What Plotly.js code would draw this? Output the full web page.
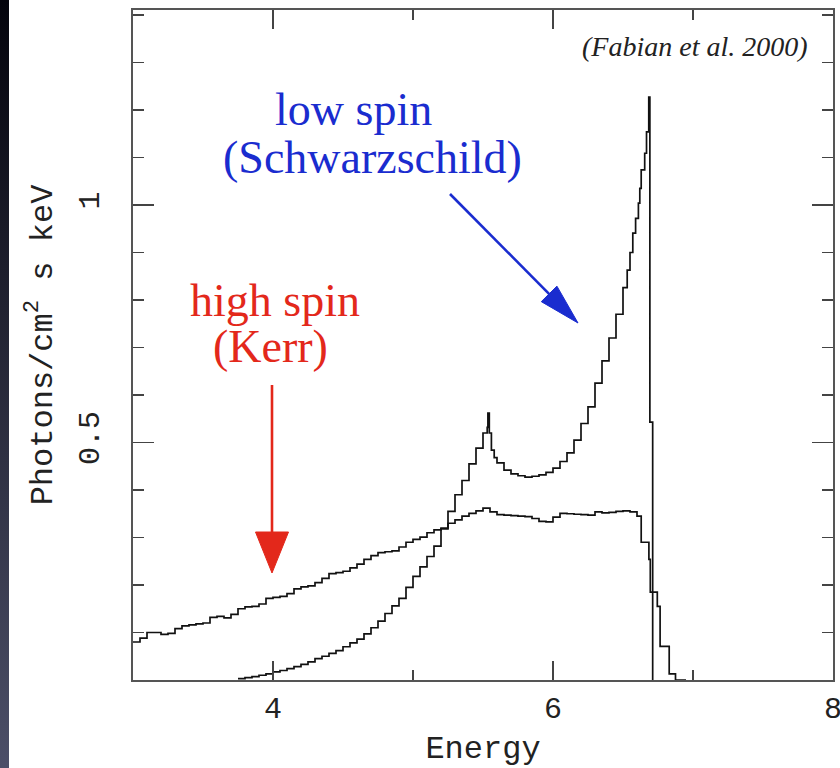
<!DOCTYPE html>
<html>
<head>
<meta charset="utf-8">
<script src="https://cdn.plot.ly/plotly-3.0.1.min.js"></script>
<style>
html,body{margin:0;padding:0;background:#ffffff;}
#strip{position:absolute;left:0;top:0;width:9px;height:768px;background:linear-gradient(#04040c,#4c4f68);z-index:5;}
#chart{position:absolute;left:0;top:0;width:840px;height:768px;}
</style>
</head>
<body>
<div id="chart"></div>
<div id="strip"></div>
<script>
// ---- data (energy in keV, flux in photons/cm^2/s/keV) ----
const kerrEnergy = [3.00,3.05,3.10,3.15,3.20,3.25,3.30,3.35,3.40,3.45,3.50,3.55,3.60,3.65,3.70,3.75,3.80,3.85,3.90,3.95,
  4.00,4.05,4.10,4.15,4.20,4.25,4.30,4.35,4.40,4.45,4.50,4.55,4.60,4.65,4.70,4.75,4.80,4.85,4.90,4.95,
  5.00,5.05,5.10,5.15,5.20,5.25,5.30,5.35,5.40,5.45,5.50,5.55,5.60,5.65,5.70,5.75,5.80,5.85,5.90,5.95,
  6.00,6.05,6.10,6.15,6.20,6.25,6.30,6.35,6.40,6.45,6.50,6.55,6.60,6.63,6.685,6.695,6.745,6.765,6.83,6.875,6.95];
const kerrFlux = [0.080,0.088,0.100,0.100,0.096,0.098,0.108,0.114,0.116,0.118,0.120,0.132,0.134,0.131,0.138,0.150,0.154,0.155,0.160,0.172,
  0.174,0.176,0.182,0.192,0.196,0.198,0.205,0.214,0.224,0.226,0.229,0.236,0.244,0.254,0.262,0.268,0.270,0.272,0.280,0.290,
  0.296,0.301,0.310,0.316,0.320,0.330,0.337,0.345,0.351,0.356,0.362,0.354,0.348,0.347,0.346,0.345,0.344,0.340,0.334,0.333,
  0.343,0.351,0.350,0.349,0.348,0.347,0.354,0.352,0.353,0.355,0.356,0.354,0.345,0.290,0.254,0.185,0.155,0.071,0.013,0.000,0.000];

const schwEnergy = [3.75,3.80,3.85,3.90,3.95,4.00,4.05,4.10,4.15,4.20,4.25,4.30,4.35,4.40,4.45,4.50,4.55,4.60,4.65,4.70,
  4.75,4.80,4.85,4.90,4.95,5.00,5.05,5.10,5.15,5.20,5.25,5.30,5.35,5.40,5.45,5.50,5.53,5.535,5.545,5.56,
  5.58,5.60,5.65,5.70,5.75,5.80,5.85,5.90,5.95,6.00,6.05,6.10,6.15,6.20,6.25,6.30,6.35,6.40,6.45,6.50,
  6.53,6.55,6.57,6.59,6.61,6.62,6.63,6.655,6.668,6.684,6.692,6.712];
const schwFlux = [0.003,0.005,0.007,0.010,0.013,0.017,0.020,0.024,0.028,0.033,0.038,0.045,0.050,0.056,0.062,0.070,0.078,0.086,0.097,0.110,
  0.124,0.140,0.156,0.172,0.195,0.218,0.238,0.260,0.282,0.318,0.355,0.390,0.420,0.455,0.488,0.520,0.532,0.562,0.520,0.484,
  0.468,0.457,0.442,0.434,0.430,0.427,0.429,0.432,0.437,0.446,0.460,0.478,0.505,0.540,0.575,0.625,0.672,0.720,0.770,0.826,
  0.863,0.900,0.941,0.972,1.004,1.035,1.074,1.109,1.154,1.227,0.543,0.000];

const xRange = [3, 8];
const yTickVals = [0.5, 1];
const yTickText = ['0.5', '1'];

// ---- layout geometry ----
const W = 840, H = 768;
const M = {l: 133, r: 7, t: 10, b: 88};
const plotW = W - M.l - M.r, plotH = H - M.t - M.b;
const yRange = [0, plotH / 475];
// pixel -> data helpers for annotation / arrow placement
function dx(px){ return xRange[0] + (px - M.l) * (xRange[1]-xRange[0]) / plotW; }
function dy(py){ return yRange[0] + (M.t + plotH - py) * (yRange[1]-yRange[0]) / plotH; }

function arrow(tail, tip, headLen, headHalf, color, width){
  const vx = tip[0]-tail[0], vy = tip[1]-tail[1];
  const L = Math.hypot(vx, vy), ux = vx/L, uy = vy/L;
  const bx = tip[0]-ux*headLen, by = tip[1]-uy*headLen;
  const p1 = [bx - uy*headHalf, by + ux*headHalf];
  const p2 = [bx + uy*headHalf, by - ux*headHalf];
  return [
    {type:'line', xref:'x', yref:'y', x0:dx(tail[0]), y0:dy(tail[1]), x1:dx(bx+ux*2), y1:dy(by+uy*2),
     line:{color:color, width:width}},
    {type:'path', xref:'x', yref:'y',
     path:'M'+dx(tip[0])+','+dy(tip[1])+' L'+dx(p1[0])+','+dy(p1[1])+' L'+dx(p2[0])+','+dy(p2[1])+' Z',
     fillcolor:color, line:{color:color, width:1}}
  ];
}

const BLUE = '#1a2ccf', RED = '#e3281b';

const traces = [
  {x: kerrEnergy, y: kerrFlux, type:'scatter', mode:'lines', name:'high spin (Kerr)',
   line:{shape:'hv', color:'#111111', width:1.7}},
  {x: schwEnergy, y: schwFlux, type:'scatter', mode:'lines', name:'low spin (Schwarzschild)',
   line:{shape:'hv', color:'#111111', width:1.7}}
];

const axisFont = {family:'Liberation Mono, Courier New, monospace', size:30, color:'#222222'};
const titleFont = {family:'Liberation Mono, Courier New, monospace', size:32, color:'#222222'};
const serif = 'Liberation Serif, Times New Roman, serif';

const layout = {
  width: W, height: H,
  margin: M,
  paper_bgcolor:'rgba(0,0,0,0)', plot_bgcolor:'#ffffff',
  showlegend:false,
  xaxis:{
    range:xRange, tickmode:'linear', tick0:0, dtick:2,
    ticks:'inside', ticklen:19, tickwidth:1.5, tickcolor:'#444444',
    minor:{tickmode:'linear', tick0:0, dtick:1, ticks:'inside', ticklen:10, tickwidth:1.5, tickcolor:'#444444'},
    showline:true, linecolor:'#555555', linewidth:2, mirror:'ticks',
    showgrid:false, zeroline:false,
    tickfont:axisFont, ticklabelstandoff:0, ticklabeloverflow:'allow',
    title:{text:'Energy', font:titleFont, standoff:14}
  },
  yaxis:{
    range:yRange, tickmode:'array', tickvals:yTickVals, ticktext:yTickText,
    ticks:'inside', ticklen:21, tickwidth:1.5, tickcolor:'#444444',
    minor:{tickmode:'linear', tick0:0, dtick:0.1, ticks:'inside', ticklen:11, tickwidth:1.5, tickcolor:'#444444'},
    showline:true, linecolor:'#555555', linewidth:2, mirror:'ticks',
    showgrid:false, zeroline:false,
    tickfont:axisFont, tickangle:-90, ticklabelstandoff:20,
    title:{text:'Photons/cm<sup>2</sup> s keV', font:titleFont, standoff:12}
  },
  annotations:[
    {xref:'x', yref:'y', x:dx(695), y:dy(46), text:'<i>(Fabian et al. 2000)</i>', showarrow:false,
     font:{family:serif, size:28, color:'#222222'}, xanchor:'center', yanchor:'middle'},
    {xref:'x', yref:'y', x:dx(353), y:dy(109), text:'low spin', showarrow:false,
     font:{family:serif, size:46, color:BLUE}, xanchor:'center', yanchor:'middle'},
    {xref:'x', yref:'y', x:dx(372), y:dy(157), text:'(Schwarzschild)', showarrow:false,
     font:{family:serif, size:46, color:BLUE}, xanchor:'center', yanchor:'middle'},
    {xref:'x', yref:'y', x:dx(275), y:dy(300), text:'high spin', showarrow:false,
     font:{family:serif, size:46, color:RED}, xanchor:'center', yanchor:'middle'},
    {xref:'x', yref:'y', x:dx(270), y:dy(346), text:'(Kerr)', showarrow:false,
     font:{family:serif, size:46, color:RED}, xanchor:'center', yanchor:'middle'}
  ],
  shapes: [].concat(
    arrow([450,194],[578,323], 41, 11, BLUE, 2.6),
    arrow([272,385],[272,573], 41, 16.5, RED, 2.6)
  )
};

Plotly.newPlot('chart', traces, layout, {displayModeBar:false, staticPlot:true});
</script>
</body>
</html>
